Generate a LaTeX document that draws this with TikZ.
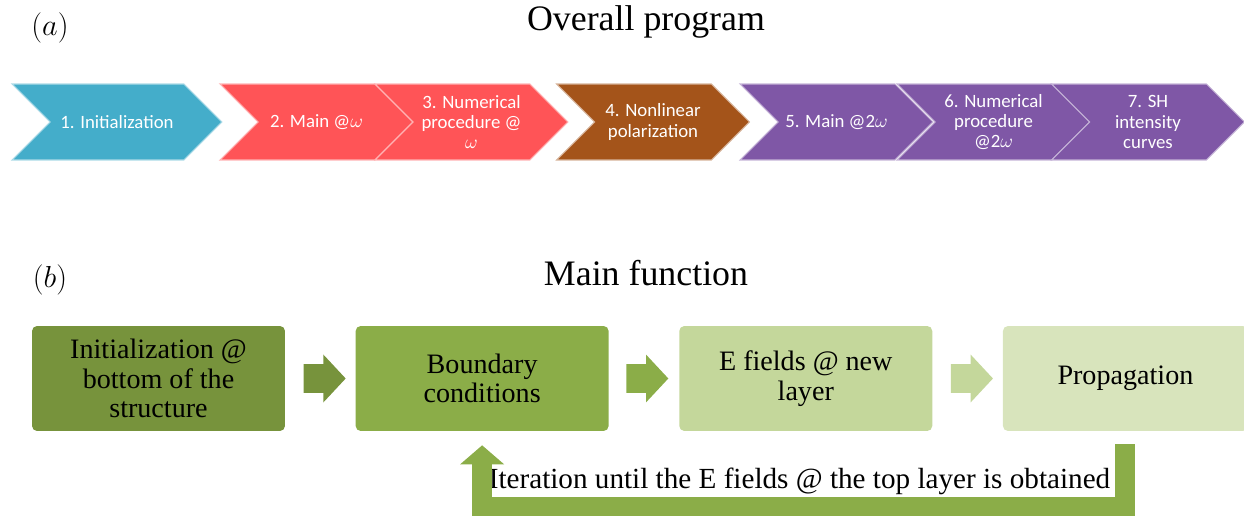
\documentclass[tikz,border=0pt]{standalone}
\usepackage{fontspec}
\setmainfont{Liberation Serif}
\newfontfamily\chevfont{Carlito}
\usepackage{tikz}
\usetikzlibrary{positioning,arrows.meta,shapes.symbols,shapes.arrows}

\definecolor{chevcyan}{HTML}{44ADCA}
\definecolor{chevred}{HTML}{FF5457}
\definecolor{chevbrown}{HTML}{A4541A}
\definecolor{chevpurple}{HTML}{7F57A6}
\definecolor{gDark}{HTML}{77933C}
\definecolor{gMid}{HTML}{8BAD48}
\definecolor{gLight}{HTML}{C4D79B}
\definecolor{gPale}{HTML}{D8E4BC}

\begin{document}
\begin{tikzpicture}[
    x=0.02cm, y=-0.02cm,
    node distance=3.6mm and 1.4cm,
    chev/.style={signal, signal from=west, signal to=east, signal pointer angle=90,
        minimum width=3.86cm, minimum height=1.52cm, align=center, inner sep=0pt,
        text=white, fill=#1, draw=white!55!#1, line width=0.6pt,
        font=\chevfont\fontsize{10.7}{11.5}\selectfont},
    mainbox/.style={rounded corners=0.1cm, minimum width=5.06cm, minimum height=2.1cm,
        align=center, fill=#1, font=\fontsize{16}{16.7}\selectfont},
    blockarr/.style={single arrow, single arrow head extend=0.19cm, single arrow tip angle=94,
        minimum height=0.84cm, minimum width=0.94cm, inner xsep=0pt, inner ysep=0.28cm, fill=#1},
    looparrow/.style={draw=gMid, line width=0.4cm, line join=miter,
        -{Triangle[length=0.38cm, width=0.88cm, line width=0pt]}}
]
\useasboundingbox (0,0) rectangle (1244,516);

% (a) overall program
\node[font=\fontsize{19}{22}\selectfont] (lblA) at (50,28) {$(a)$};
\node[font=\fontsize{20.4}{24}\selectfont] (ttlA) at (646,22) {Overall program};

\node[chev=chevcyan, minimum width=4.2cm] (init) at (117,122) {1. Initialization};
\node[chev=chevred] (mainw) at (316.5,122) {2. Main @$\omega$};
\node[chev=chevred] (numw) at (471.5,122) {3. Numerical\\procedure @\\$\omega$};
\node[chev=chevbrown] (nlpol) at (653,122) {4. Nonlinear\\polarization};
\node[chev=chevpurple] (maintw) at (836.5,122) {5. Main @2$\omega$};
\node[chev=chevpurple] (numtw) at (993.5,122) {6. Numerical\\procedure\\@2$\omega$};
\node[chev=chevpurple] (shcurv) at (1148,122) {7. SH\\intensity\\curves};

% (b) main function
\node[font=\fontsize{19}{22}\selectfont] (lblB) at (50,280) {$(b)$};
\node[font=\fontsize{20.4}{24}\selectfont] (ttlB) at (646,273) {Main function};

\node[mainbox=gDark] (initb) at (158.5,378.5) {Initialization @\\bottom of the\\structure};
\node[mainbox=gMid, right=of initb] (bound) {Boundary\\conditions};
\node[mainbox=gLight, right=of bound] (efield) {E fields @ new\\layer};
\node[mainbox=gPale, right=of efield, minimum width=4.9cm] (prop) {Propagation};

\node[blockarr=gDark, right=0.36cm of initb] (ar1) {};
\node[blockarr=gMid, right=0.34cm of bound] (ar2) {};
\node[blockarr=gLight, right=0.36cm of efield] (ar3) {};

\node[fill=white, inner sep=0.5pt, font=\fontsize{16.6}{17}\selectfont] (iter) at (799.5,481)
    {Iteration until the E fields @ the top layer is obtained};
\draw[looparrow] ([yshift=-0.26cm]prop.south) -- ++(0,-1.25cm) -| ([yshift=-0.28cm]bound.south);
\end{tikzpicture}
\end{document}
